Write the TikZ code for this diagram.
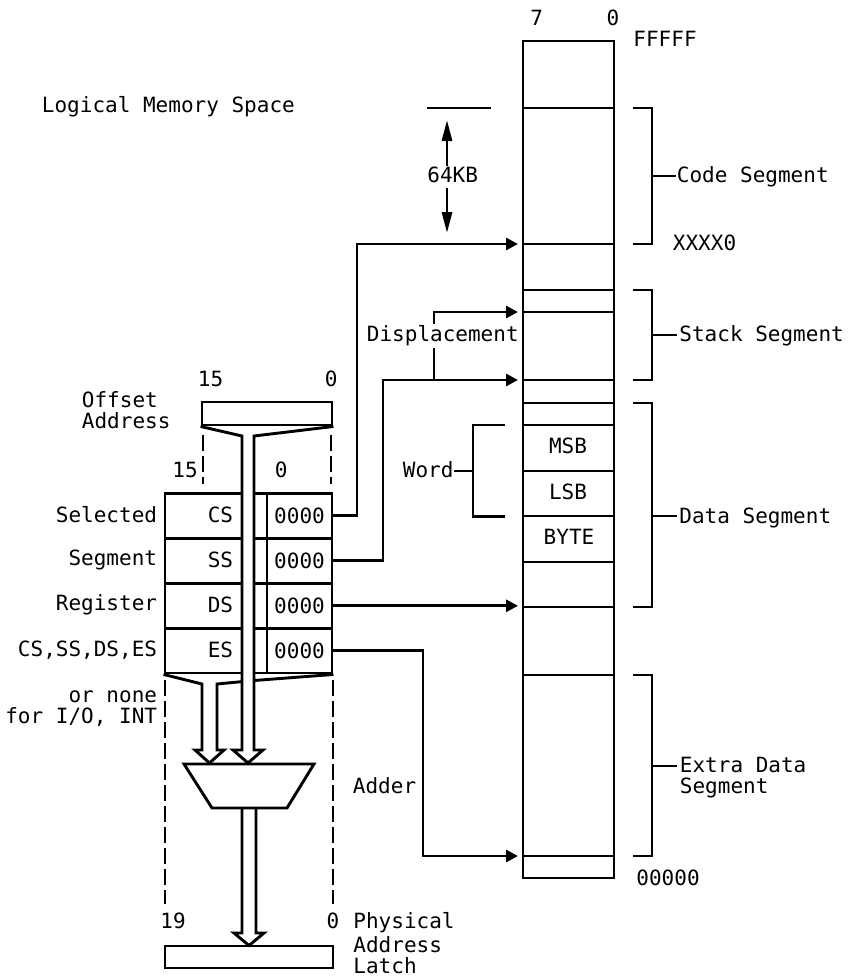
\documentclass[tikz,border=0pt]{standalone}
\usepackage{fontspec}
\setmainfont{DejaVu Sans Mono}
\usetikzlibrary{arrows.meta}
\begin{document}
\begin{tikzpicture}[x=1pt,y=-1pt,line width=2.9pt,line join=miter,
  every node/.style={inner sep=0pt,font=\fontsize{21}{25}\selectfont},
  cellbox/.style={draw,minimum height=45pt},
  tip/.style={-{Triangle[length=12pt,width=12pt]}},
  bigtip/.style={-{Triangle[length=21pt,width=10pt]}},
  dsh/.style={dash pattern=on 16pt off 5pt}]
\useasboundingbox (0,0) rectangle (851,978);

% ---------- memory column ----------
\node[draw,minimum width=91pt,minimum height=837pt] (mem) at (568.5,459.5) {};
\foreach \yy in {108,244,290,312,380,403,425,471,516,562,607,675,856}
  \draw (523,\yy) -- (614,\yy);
\node (msb) at (568,446) {MSB};
\node (lsb) at (568,491.5) {LSB};
\node (byte) at (569,537) {BYTE};
\node[anchor=base] (b7) at (536.7,25) {7};
\node[anchor=base] (b0) at (613,25) {0};
\node[anchor=base west] (ffff) at (632,46) {FFFFF};
\node[anchor=base west] (xxxx) at (671.5,250) {XXXX0};
\node[anchor=base west] (zzzz) at (635,885) {00000};

% ---------- segment brackets ----------
\node[anchor=base west] (codeseg) at (675.5,182.5) {Code Segment};
\draw (633,108) -- (652,108) -- (652,244) -- (633,244);
\draw (652,176) -- (676,176);
\node[anchor=base west] (stackseg) at (678,341.7) {Stack Segment};
\draw (633,290) -- (652,290) -- (652,380) -- (633,380);
\draw (652,335) -- (677,335);
\node[anchor=base west] (dataseg) at (678,523) {Data Segment};
\draw (633,403) -- (652,403) -- (652,607) -- (633,607);
\draw (652,516) -- (677,516);
\node[anchor=base west] (extraseg) at (678.5,772) {Extra Data};
\node[anchor=base west] (extraseg2) at (678.5,793.5) {Segment};
\draw (633,675) -- (652,675) -- (652,856) -- (633,856);
\draw (652,766) -- (677,766);

% ---------- word bracket ----------
\node[anchor=base west] (word) at (401.5,477) {Word};
\draw (505,425) -- (473,425) -- (473,516.5) -- (505,516.5);
\draw (454,471) -- (473,471);

% ---------- 64KB ----------
\node[anchor=base west] (title) at (40.5,112) {Logical Memory Space};
\node[anchor=base] (kb) at (452.7,182.3) {64KB};
\draw (427,108) -- (491,108);
\coordinate (kbtop) at (447,120);
\coordinate (kbbot) at (447,233);
\draw[bigtip] (447,166) -- (kbtop);
\draw[bigtip] (447,188) -- (kbbot);

% ---------- offset address ----------
\node[anchor=base west] (offl1) at (80.5,407) {Offset};
\node[anchor=base west] (offl2) at (80.5,428) {Address};
\node[anchor=base] (o15) at (210.5,386) {15};
\node[anchor=base] (o0) at (331.3,386) {0};
\node[draw,minimum width=130pt,minimum height=23pt] (off) at (267,413.5) {};
\draw[dsh] (203,435) -- (203,484);
\draw[dsh] (331,435) -- (331,484);
\node[anchor=base] (r15) at (185,477) {15};
\node[anchor=base] (r0) at (281.3,477) {0};

% ---------- segment registers ----------
\foreach \r/\n/\y/\lab in {cs/CS/515.8/Selected, ss/SS/560.8/Segment, ds/DS/605.8/Register, es/ES/650.5/{CS,SS,DS,ES}} {
  \node[cellbox,minimum width=77pt] (\r n) at (203.5,\y) {};
  \node[cellbox,minimum width=13pt] (\r g) at (260.5,\y) {};
  \node[cellbox,minimum width=65pt] (\r v) at (299.5,\y) {0000};
  \node[anchor=east] (\r t) at (234.5,\y-0.8) {\n};
  \node[anchor=east] (\r l) at (158.5,\y-0.8) {\lab};
}
\node[anchor=base east] (none1) at (158.5,702) {or none};
\node[anchor=base east] (none2) at (158.5,723) {for I/O, INT};

% offset funnel and stem
\draw (off.south west) -- (242,436) -- (242,750) -- (233,750) -- (248,763)
      -- (263,750) -- (254,750) -- (254,436) -- (off.south east);
% segment funnel and stem
\draw (esn.south west) -- (202,684) -- (202,750) -- (195,750) -- (209.5,763)
      -- (224,750) -- (217,750) -- (217,684) -- (242,681.6);
\draw (254,680.5) -- (esv.south east);

% adder
\draw (184,764) -- (314,764) -- (287,808) -- (212,808) -- cycle;
\node[anchor=base west] (adder) at (351.5,793) {Adder};
\draw (242,808) -- (242,933) -- (234,933) -- (249,945.5) -- (264,933)
      -- (256,933) -- (256,808);

% lower dashed lines and latch
\draw[dsh] (165,680) -- (165,904);
\draw[dsh] (333,680) -- (333,904);
\node[anchor=base] (p19) at (173,928) {19};
\node[anchor=base] (p0) at (333,928) {0};
\node[anchor=base west] (phys1) at (352,928) {Physical};
\node[anchor=base west] (phys2) at (352,952) {Address};
\node[anchor=base west] (phys3) at (352,973) {Latch};
\node[draw,minimum width=168pt,minimum height=22pt] (latch) at (249,957) {};

% ---------- connectors ----------
\coordinate (aCS) at (518,244);
\coordinate (aSS) at (518,380);
\coordinate (aDisp) at (518,312);
\coordinate (aES) at (518,856);
\coordinate (split) at (434,380);
\draw[tip] (csv.east) -- (357,515.8) |- (aCS);
\draw[tip] (ssv.east) -- (383,560.8) |- (aSS);
\draw[tip] (split) |- (aDisp);
\draw[tip] (dsv.east) -- (518,605.8);
\draw[tip] (esv.east) -- (423,650.5) |- (aES);
\node[anchor=base west,fill=white,inner xsep=1pt,inner ysep=1.5pt] (disp) at (364.5,341.7) {Displacement};
\end{tikzpicture}
\end{document}
